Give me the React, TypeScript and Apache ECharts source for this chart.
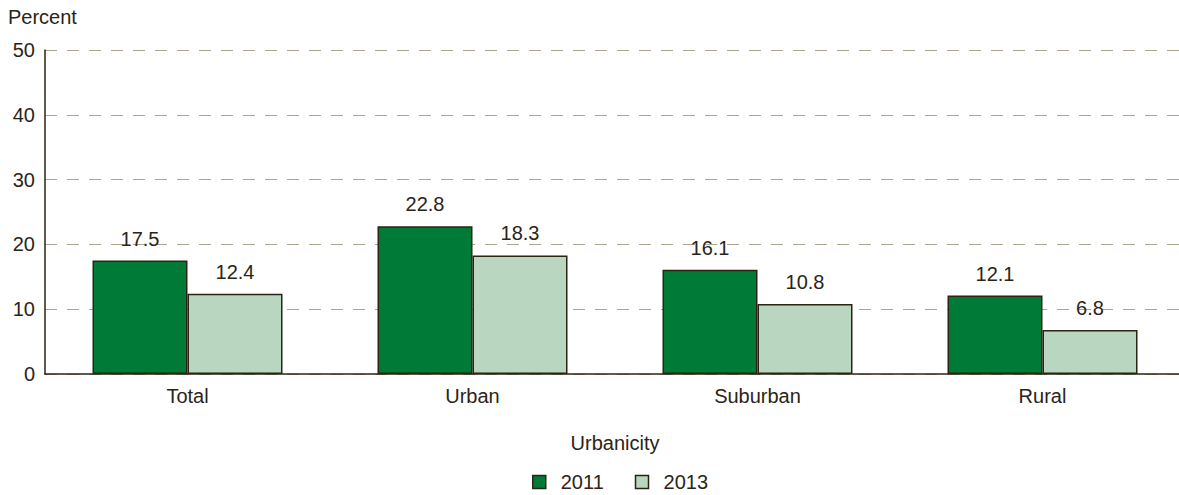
import React, { useEffect, useRef } from "react";
import * as echarts from "echarts";

const categories = ["Total", "Urban", "Suburban", "Rural"];
const years = ["2011", "2013"];
const values2011 = [17.5, 22.8, 16.1, 12.1];
const values2013 = [12.4, 18.3, 10.8, 6.8];
const yTicks = [0, 10, 20, 30, 40, 50];

const FONT = "'Liberation Sans', Arial, sans-serif";
const FS = 20;
const TEXT = "#2b2418";
const BORDER = "#2b2413";
const COLORS = ["#007a37", "#b8d6c0"];

export default function App() {
  const ref = useRef<HTMLDivElement>(null);
  useEffect(() => {
    if (!ref.current) return;
    const chart = echarts.init(ref.current, null, { renderer: "svg" });
    const seriesData = [values2011, values2013];
    chart.setOption({
      animation: false,
      textStyle: { fontFamily: FONT, color: TEXT },
      graphic: [
        {
          type: "text",
          left: 8,
          top: 7,
          style: { text: "Percent", fontFamily: FONT, fontSize: FS, fill: TEXT },
        },
      ],
      grid: { left: 45, right: 0, top: 50, bottom: 121, containLabel: false },
      legend: {
        data: years,
        left: 532,
        top: 472,
        padding: 0,
        itemWidth: 13,
        itemHeight: 13,
        itemGap: 31,
        icon: "rect",
        textStyle: { fontFamily: FONT, fontSize: FS, color: TEXT, padding: [0, 0, 0, 10] },
        itemStyle: { borderColor: BORDER, borderWidth: 1.5 },
      },
      xAxis: {
        type: "category",
        data: categories,
        name: "Urbanicity",
        nameLocation: "middle",
        nameGap: 59,
        nameTextStyle: { fontFamily: FONT, fontSize: FS, color: TEXT, padding: [0, 0, 0, 0] },
        axisLine: { lineStyle: { color: BORDER, width: 1.5 } },
        axisTick: { show: false },
        axisLabel: { fontFamily: FONT, fontSize: FS, color: TEXT, margin: 12 },
      },
      yAxis: {
        type: "value",
        min: yTicks[0],
        max: yTicks[yTicks.length - 1],
        interval: 10,
        axisLine: { show: true, lineStyle: { color: BORDER, width: 1.5 } },
        axisTick: { show: false },
        axisLabel: { fontFamily: FONT, fontSize: FS, color: TEXT, margin: 10 },
        splitLine: {
          show: true,
          lineStyle: { color: "#aca690", type: [12, 10], width: 1.2 },
        },
      },
      series: years.map((y, i) => ({
        name: y,
        type: "bar",
        data: seriesData[i],
        barWidth: 95,
        barGap: "0%",
        itemStyle: { color: COLORS[i], borderColor: BORDER, borderWidth: 1.5 },
        label: {
          show: true,
          position: "top",
          distance: 12,
          fontFamily: FONT,
          fontSize: FS,
          color: TEXT,
          formatter: (p: any) => Number(p.value).toFixed(1),
        },
      })),
    });
    return () => chart.dispose();
  }, []);
  return (
    <div style={{ width: 1179, height: 495, position: "absolute", left: 0, top: 0, overflow: "hidden" }}>
      <div ref={ref} style={{ width: 1185, height: 495 }} />
    </div>
  );
}
